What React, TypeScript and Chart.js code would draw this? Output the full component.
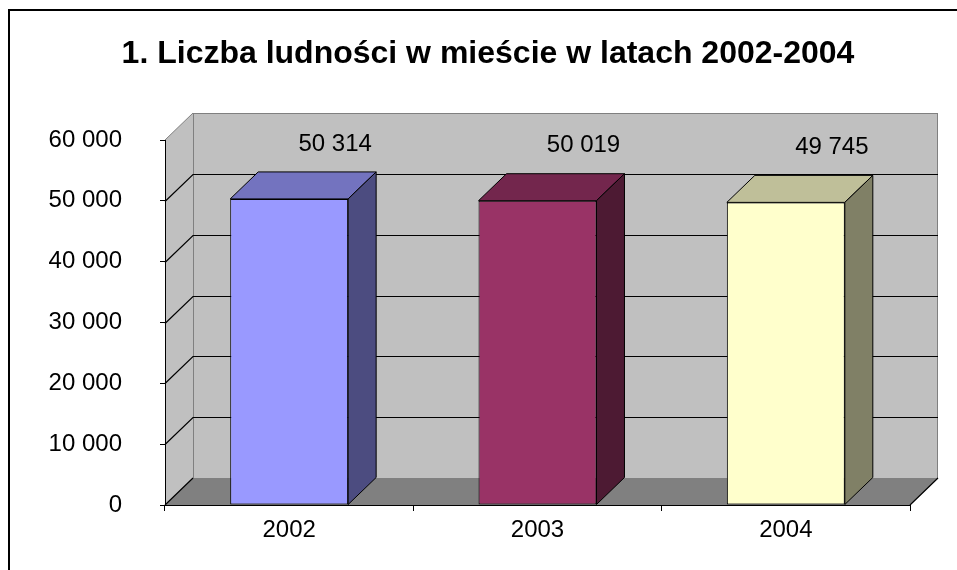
import { useEffect, useRef } from "react";
import { Chart, registerables } from "chart.js";

Chart.register(...registerables);

const TITLE = "1. Liczba ludności w mieście w latach 2002-2004";
const categories = ["2002", "2003", "2004"];
const population = [50314, 50019, 49745];
const Y_MIN = 0;
const Y_MAX = 60000;
const Y_STEP = 10000;

const FRONT_COLORS = ["#9999FF", "#993366", "#FFFFCC"];
const TOP_COLORS = ["#7373BF", "#73264D", "#BFBF99"];
const SIDE_COLORS = ["#4C4C80", "#4D1A33", "#808066"];

const DX = 28;
const DY = 27;
const FONT = "Arial, 'Liberation Sans', sans-serif";

const fmt = (v: number) =>
  String(Math.round(v)).replace(/\B(?=(\d{3})+(?!\d))/g, " ");

const threeD = {
  id: "threeD",
  beforeDraw(chart: any) {
    const { ctx, chartArea: a, scales } = chart;
    const y = scales.y;
    const L = a.left, R = a.right, T = a.top, B = a.bottom;
    ctx.save();
    // outer frame
    ctx.strokeStyle = "#000";
    ctx.lineWidth = 2;
    ctx.beginPath();
    ctx.moveTo(9, chart.height + 5);
    ctx.lineTo(9, 10);
    ctx.lineTo(chart.width + 5, 10);
    ctx.stroke();

    // title
    ctx.fillStyle = "#000";
    ctx.font = `bold 32px ${FONT}`;
    ctx.textAlign = "center";
    ctx.textBaseline = "middle";
    ctx.fillText(TITLE, 488, 54);

    // back wall
    ctx.fillStyle = "#C0C0C0";
    ctx.fillRect(L + DX, T - DY, R - L, B - T);
    // left wall
    ctx.beginPath();
    ctx.moveTo(L, T);
    ctx.lineTo(L + DX, T - DY);
    ctx.lineTo(L + DX, B - DY);
    ctx.lineTo(L, B);
    ctx.closePath();
    ctx.fill();
    // floor
    ctx.fillStyle = "#808080";
    ctx.beginPath();
    ctx.moveTo(L, B);
    ctx.lineTo(R, B);
    ctx.lineTo(R + DX, B - DY);
    ctx.lineTo(L + DX, B - DY);
    ctx.closePath();
    ctx.fill();

    // wall edges
    ctx.lineWidth = 1;
    ctx.strokeStyle = "#808080";
    ctx.strokeRect(L + DX + 0.5, T - DY + 0.5, R - L - 1, B - T);
    ctx.beginPath();
    ctx.moveTo(L, T);
    ctx.lineTo(L + DX, T - DY);
    ctx.stroke();

    // gridlines
    ctx.strokeStyle = "#000";
    ctx.lineWidth = 1.2;
    for (const t of y.ticks) {
      const v = t.value;
      if (v <= Y_MIN || v >= Y_MAX) continue;
      const py = Math.round(y.getPixelForValue(v)) + 0.5;
      ctx.beginPath();
      ctx.moveTo(L, py);
      ctx.lineTo(L + DX, py - DY);
      ctx.lineTo(R + DX, py - DY);
      ctx.stroke();
    }
    // floor diagonals
    ctx.beginPath();
    ctx.moveTo(L, B);
    ctx.lineTo(L + DX, B - DY);
    ctx.moveTo(R, B);
    ctx.lineTo(R + DX, B - DY);
    ctx.stroke();
    ctx.restore();
  },
  afterDatasetsDraw(chart: any) {
    const { ctx } = chart;
    const meta = chart.getDatasetMeta(0);
    const values = chart.data.datasets[0].data as number[];
    ctx.save();
    ctx.lineWidth = 1;
    ctx.strokeStyle = "#000";
    meta.data.forEach((bar: any, i: number) => {
      const { x, y, base, width } = bar.getProps(["x", "y", "base", "width"], true);
      const x1 = x - width / 2;
      const x2 = x + width / 2;
      // top face
      ctx.fillStyle = TOP_COLORS[i];
      ctx.beginPath();
      ctx.moveTo(x1, y);
      ctx.lineTo(x2, y);
      ctx.lineTo(x2 + DX, y - DY);
      ctx.lineTo(x1 + DX, y - DY);
      ctx.closePath();
      ctx.fill();
      ctx.stroke();
      // side face
      ctx.fillStyle = SIDE_COLORS[i];
      ctx.beginPath();
      ctx.moveTo(x2, y);
      ctx.lineTo(x2 + DX, y - DY);
      ctx.lineTo(x2 + DX, base - DY);
      ctx.lineTo(x2, base);
      ctx.closePath();
      ctx.fill();
      ctx.stroke();
      // value label
      ctx.fillStyle = "#000";
      ctx.font = `24px ${FONT}`;
      ctx.textAlign = "center";
      ctx.textBaseline = "middle";
      ctx.fillText(fmt(values[i]), x + 46, y - DY - 28);
    });
    ctx.restore();
  },
};

export default function App() {
  const ref = useRef<HTMLCanvasElement | null>(null);
  useEffect(() => {
    if (!ref.current) return;
    const chart = new Chart(ref.current, {
      type: "bar",
      data: {
        labels: categories,
        datasets: [
          {
            data: population,
            backgroundColor: FRONT_COLORS,
            borderColor: "#000",
            borderWidth: 1,
            borderSkipped: false,
            categoryPercentage: 1,
            barPercentage: 0.475,
          },
        ],
      },
      options: {
        responsive: false,
        animation: false,
        layout: { padding: { left: 0, right: 47, top: 140, bottom: 0 } },
        plugins: {
          legend: { display: false },
          tooltip: { enabled: false },
          title: { display: false },
        },
        scales: {
          x: {
            grid: {
              display: true,
              drawOnChartArea: false,
              drawTicks: true,
              tickLength: 6,
              color: "#000",
              offset: true,
            },
            border: { display: true, color: "#000", width: 1 },
            ticks: { color: "#000", font: { family: FONT, size: 24 }, padding: 5 },
            afterFit: (s: any) => {
              s.height = 65;
            },
          },
          y: {
            min: Y_MIN,
            max: Y_MAX,
            ticks: {
              stepSize: Y_STEP,
              color: "#000",
              font: { family: FONT, size: 24 },
              padding: 38,
              callback: (v: any) => fmt(Number(v)),
            },
            grid: { drawOnChartArea: false, tickLength: 5, color: "#000" },
            border: { display: true, color: "#000", width: 1 },
            afterFit: (s: any) => {
              s.width = 165;
            },
          },
        },
      } as any,
      plugins: [threeD],
    });
    return () => chart.destroy();
  }, []);
  return (
    <div style={{ position: "absolute", left: 0, top: 0, width: 957, height: 570 }}>
      <canvas ref={ref} width={957} height={570} />
    </div>
  );
}
